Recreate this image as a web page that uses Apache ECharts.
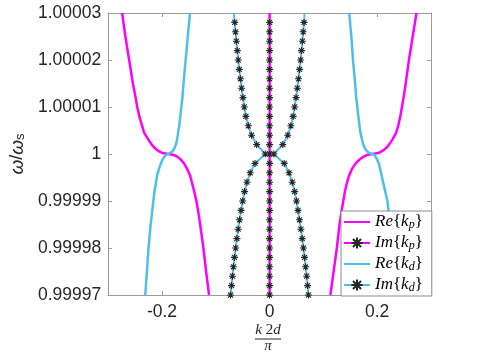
<!DOCTYPE html>
<html>
<head>
<meta charset="utf-8">
<script src="https://cdn.jsdelivr.net/npm/echarts@6/dist/echarts.min.js"></script>
<style>
  html, body { margin: 0; padding: 0; background: #fff; }
  #chart { width: 485px; height: 353px; }
</style>
</head>
<body>
<div id="chart"></div>
<script>
// omega/omega_s levels used for the Re curves (top to bottom)
var wRe = [1.00003, 1.000025, 1.00002, 1.000015, 1.000012, 1.00001, 1.000008, 1.000006, 1.0000045, 1.000003,
  1.000002, 1.0000012, 1.0000006, 1.0000002, 1,
  0.9999998, 0.9999994, 0.9999988, 0.999998, 0.999997, 0.9999955, 0.999994, 0.999992, 0.99999, 0.999988,
  0.999985, 0.99998, 0.999975, 0.99997]
// k 2d / pi read along wRe
var reKpLeft = [-0.274, -0.268, -0.261, -0.254, -0.249, -0.246, -0.242, -0.237, -0.233, -0.225,
  -0.219, -0.213, -0.206, -0.199, -0.188,
  -0.178, -0.171, -0.165, -0.159, -0.154, -0.148, -0.1445, -0.140, -0.136, -0.133,
  -0.129, -0.123, -0.118, -0.1125]
var reKpRight = [0.273, 0.266, 0.259, 0.253, 0.249, 0.246, 0.243, 0.239, 0.235, 0.228,
  0.222, 0.216, 0.209, 0.202, 0.191,
  0.181, 0.174, 0.167, 0.160, 0.154, 0.148, 0.144, 0.140, 0.137, 0.134,
  0.130, 0.125, 0.119, 0.113]
var reKdLeft = [-0.148, -0.152, -0.156, -0.160, -0.162, -0.164, -0.166, -0.168, -0.170, -0.172,
  -0.174, -0.177, -0.180, -0.183, -0.188,
  -0.193, -0.196, -0.199, -0.202, -0.205, -0.209, -0.211, -0.214, -0.216, -0.218,
  -0.221, -0.225, -0.228, -0.231]
var reKdRight = [0.148, 0.152, 0.155, 0.159, 0.161, 0.163, 0.165, 0.167, 0.169, 0.172,
  0.174, 0.177, 0.181, 0.185, 0.191,
  0.195, 0.198, 0.200, 0.203, 0.205, 0.208, 0.211, 0.215, 0.219, 0.221,
  0.224, 0.228, 0.231, 0.234]

// omega/omega_s levels of the star markers (last one is the top edge)
var wIm = [0.99997, 0.999972, 0.999974, 0.999976, 0.999978, 0.99998, 0.999982, 0.999984, 0.999986, 0.999988,
  0.99999, 0.999992, 0.999994, 0.999996, 0.999998, 1, 1.000002, 1.000004, 1.000006, 1.000008,
  1.00001, 1.000012, 1.000014, 1.000016, 1.000018, 1.00002, 1.000022, 1.000024, 1.000026, 1.000028, 1.00003]
var imKp = [0, 0, 0, 0, 0, 0, 0, 0, 0, 0, 0, 0, 0, 0, 0, 0, 0, 0, 0, 0, 0, 0, 0, 0, 0, 0, 0, 0, 0, 0, 0]
var imKdLeft = [-0.0725, -0.0708, -0.0690, -0.0672, -0.0652, -0.0630, -0.0608, -0.0584, -0.0558, -0.0530,
  -0.0500, -0.0465, -0.0420, -0.0360, -0.0270, -0.0080, -0.0240, -0.0335, -0.0395, -0.0440,
  -0.0470, -0.0495, -0.0520, -0.0542, -0.0562, -0.0582, -0.0600, -0.0617, -0.0633, -0.0648, -0.0665]
var imKdRight = [0.0722, 0.0706, 0.0689, 0.0670, 0.0650, 0.0629, 0.0606, 0.0582, 0.0556, 0.0528,
  0.0500, 0.0466, 0.0422, 0.0362, 0.0272, 0.0080, 0.0245, 0.0338, 0.0396, 0.0438,
  0.0466, 0.0492, 0.0516, 0.0538, 0.0558, 0.0577, 0.0594, 0.0610, 0.0625, 0.0640, 0.0650]

var xTicks = [-0.2, 0, 0.2]
var yTicks = [0.99997, 0.99998, 0.99999, 1, 1.00001, 1.00002, 1.00003]
var yTickLabels = ['0.99997', '0.99998', '0.99999', '1', '1.00001', '1.00002', '1.00003']

var names = ['Re{kp}', 'Im{kp}', 'Re{kd}', 'Im{kd}']
var legendText = {
  'Re{kp}': '{i|Re}{{i|k}{s|p}}',
  'Im{kp}': '{i|Im}{{i|k}{s|p}}',
  'Re{kd}': '{i|Re}{{i|k}{s|d}}',
  'Im{kd}': '{i|Im}{{i|k}{s|d}}'
}

var MAGENTA = '#FF00FF'
var CYAN = '#4DBEEE'
var AXIS = '#9a9a9a'
var STAR = 'path://M0,-5L0,5M-5,0L5,0M-3.6,-3.6L3.6,3.6M-3.6,3.6L3.6,-3.6'

function pairs (ks, ws) {
  return ks.map(function (k, i) {
    if (ws[i] >= 1.00003 && ws === wIm) {
      return { value: [k, ws[i]], symbol: 'none' }
    }
    return [k, ws[i]]
  })
}

function plain (name, ks, color) {
  return {
    name: name, type: 'line', data: pairs(ks, wRe),
    symbol: 'circle', showSymbol: false,
    color: color,
    lineStyle: { color: color, width: 2.5, join: 'round' },
    itemStyle: { color: 'rgba(0,0,0,0)' }
  }
}

function starred (name, ks, color, width) {
  return {
    name: name, type: 'line', data: pairs(ks, wIm),
    symbol: STAR, symbolSize: 7, showSymbol: true,
    color: color,
    lineStyle: { color: color, width: width },
    itemStyle: { color: '#262626', borderColor: '#262626', borderWidth: 1.1 }
  }
}

function tickAxis (extra) {
  var base = {
    type: 'value',
    axisLine: { onZero: false, lineStyle: { color: AXIS, width: 1 } },
    axisTick: { inside: true, length: 4, lineStyle: { color: AXIS } },
    splitLine: { show: false },
    axisLabel: { show: false }
  }
  return Object.assign(base, extra)
}

var labelStyle = { color: '#262626', fontFamily: 'Liberation Sans', fontSize: 17.5 }

var chart = echarts.init(document.getElementById('chart'))
chart.setOption({
  animation: false,
  grid: { left: 105, right: 54, top: 13, bottom: 58 },
  xAxis: [
    tickAxis({
      position: 'bottom', min: -0.3, max: 0.3,
      axisTick: { inside: true, length: 4, customValues: xTicks, lineStyle: { color: AXIS } },
      axisLabel: Object.assign({ show: true, margin: 8, customValues: xTicks }, labelStyle)
    }),
    tickAxis({
      position: 'top', min: -0.3, max: 0.3,
      axisTick: { inside: true, length: 4, customValues: xTicks, lineStyle: { color: AXIS } }
    })
  ],
  yAxis: [
    tickAxis({
      position: 'left', min: 0.99997, max: 1.00003,
      axisTick: { inside: true, length: 4, customValues: yTicks, lineStyle: { color: AXIS } },
      axisLabel: Object.assign({
        show: true, margin: 7, customValues: yTicks,
        formatter: function (v) {
          var i = yTicks.findIndex(function (t) { return Math.abs(t - v) < 1e-9 })
          return i >= 0 ? yTickLabels[i] : ''
        }
      }, labelStyle),
      name: '{w|ω}/{w|ω}{s|s}',
      nameLocation: 'middle',
      nameGap: 72,
      nameTextStyle: {
        color: '#262626', fontFamily: 'Liberation Sans', fontSize: 18,
        rich: {
          w: { fontStyle: 'italic', fontFamily: 'Liberation Sans', fontSize: 19, color: '#262626' },
          s: { fontFamily: 'Liberation Sans', fontSize: 13, lineHeight: 9, verticalAlign: 'bottom', color: '#262626' }
        }
      }
    }),
    tickAxis({
      position: 'right', min: 0.99997, max: 1.00003,
      axisTick: { inside: true, length: 4, customValues: yTicks, lineStyle: { color: AXIS } }
    })
  ],
  legend: {
    data: names,
    orient: 'vertical',
    left: 341, top: 211,
    padding: [2, 9, 2, 2],
    itemGap: 3,
    itemWidth: 26,
    itemHeight: 14,
    backgroundColor: '#fff',
    borderColor: '#8c8c8c',
    borderWidth: 1,
    borderRadius: 0,
    formatter: function (n) { return legendText[n] },
    textStyle: {
      color: '#000', fontFamily: 'Liberation Serif', fontSize: 17, lineHeight: 18,
      rich: {
        i: { fontStyle: 'italic', fontFamily: 'Liberation Serif', fontSize: 17, lineHeight: 18, color: '#000' },
        s: { fontStyle: 'italic', fontFamily: 'Liberation Serif', fontSize: 12, lineHeight: 8, verticalAlign: 'bottom', color: '#000' }
      }
    }
  },
  graphic: [
    {
      type: 'text', x: 268, y: 330, z: 10,
      style: {
        text: '{i|k} 2{i|d}', textAlign: 'center', textVerticalAlign: 'middle',
        fill: '#262626', font: '15px Liberation Serif',
        rich: { i: { fontStyle: 'italic', fontFamily: 'Liberation Serif', fontSize: 15 } }
      }
    },
    {
      type: 'line', z: 10,
      shape: { x1: 255, y1: 339, x2: 281, y2: 339 },
      style: { stroke: '#262626', lineWidth: 1 }
    },
    {
      type: 'text', x: 268, y: 346.5, z: 10,
      style: {
        text: 'π', textAlign: 'center', textVerticalAlign: 'middle',
        fill: '#262626', font: 'italic 15px Liberation Serif'
      }
    }
  ],
  series: [
    plain('Re{kp}', reKpLeft, MAGENTA),
    plain('Re{kp}', reKpRight, MAGENTA),
    plain('Re{kd}', reKdLeft, CYAN),
    plain('Re{kd}', reKdRight, CYAN),
    starred('Im{kd}', imKdLeft, CYAN, 2),
    starred('Im{kd}', imKdRight, CYAN, 2),
    starred('Im{kp}', imKp, MAGENTA, 2.5)
  ]
})
window.addEventListener('resize', function () {
  chart.resize()
})
</script>
</body>
</html>
